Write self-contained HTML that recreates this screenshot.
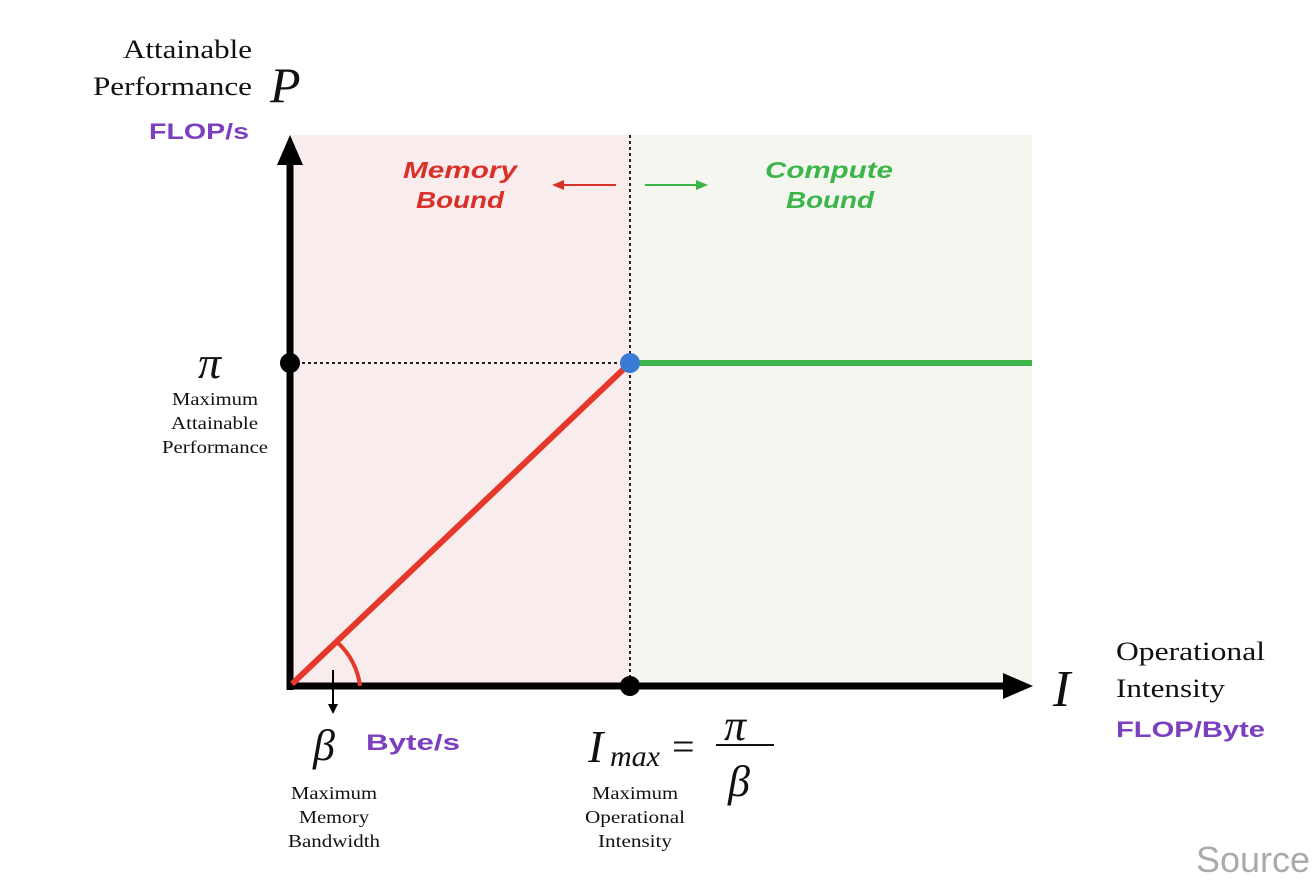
<!DOCTYPE html>
<html><head><meta charset="utf-8"><style>
html,body{margin:0;padding:0;background:#fff;}
svg{display:block}
.serif{font-family:"Liberation Serif",serif;}
.sans{font-family:"Liberation Sans",sans-serif;font-weight:bold;}
</style></head><body>
<svg width="1312" height="890" viewBox="0 0 1312 890" xmlns="http://www.w3.org/2000/svg">
<rect x="290" y="135" width="340" height="551" fill="#f9eced"/>
<rect x="630" y="135" width="402" height="551" fill="#f4f6ef"/>
<line x1="630" y1="135" x2="630" y2="686" stroke="#222" stroke-width="2" stroke-dasharray="3,3"/>
<line x1="290" y1="363" x2="630" y2="363" stroke="#222" stroke-width="2" stroke-dasharray="3,3"/>
<line x1="290" y1="690" x2="290" y2="160" stroke="#000" stroke-width="7"/>
<polygon points="290,135 277,165 303,165" fill="#000"/>
<line x1="287" y1="686" x2="1010" y2="686" stroke="#000" stroke-width="7"/>
<polygon points="1033,686 1003,673 1003,699" fill="#000"/>
<line x1="292" y1="684" x2="630" y2="363" stroke="#e5382a" stroke-width="6"/>
<line x1="630" y1="363" x2="1032" y2="363" stroke="#3db54a" stroke-width="6"/>
<path d="M 337 642 A 70 70 0 0 1 360 686" fill="none" stroke="#e5382a" stroke-width="4"/>
<circle cx="630" cy="363" r="10" fill="#3a7bd5"/>
<circle cx="290" cy="363" r="10" fill="#000"/>
<circle cx="630" cy="686" r="10" fill="#000"/>
<line x1="333" y1="670" x2="333" y2="706" stroke="#000" stroke-width="2"/>
<polygon points="333,714 328,704 338,704" fill="#000"/>
<line x1="560" y1="185" x2="616" y2="185" stroke="#d9302a" stroke-width="2"/>
<polygon points="552,185 564,180 564,190" fill="#d9302a"/>
<line x1="645" y1="185" x2="700" y2="185" stroke="#3db54a" stroke-width="2"/>
<polygon points="708,185 696,180 696,190" fill="#3db54a"/>
<g class="sans" font-style="italic" font-size="23">
<text x="403" y="178" fill="#d9302a" textLength="114" lengthAdjust="spacingAndGlyphs">Memory</text>
<text x="416" y="208" fill="#d9302a" textLength="88" lengthAdjust="spacingAndGlyphs">Bound</text>
<text x="765" y="178" fill="#3db54a" textLength="128" lengthAdjust="spacingAndGlyphs">Compute</text>
<text x="786" y="208" fill="#3db54a" textLength="88" lengthAdjust="spacingAndGlyphs">Bound</text>
</g>
<g class="serif" fill="#111">
<text x="123" y="58" font-size="26" textLength="129" lengthAdjust="spacingAndGlyphs">Attainable</text>
<text x="93" y="95" font-size="26" textLength="159" lengthAdjust="spacingAndGlyphs">Performance</text>
<text x="270" y="102" font-size="50" font-style="italic">P</text>
<text x="1116" y="660" font-size="26" textLength="149" lengthAdjust="spacingAndGlyphs">Operational</text>
<text x="1116" y="697" font-size="26" textLength="109" lengthAdjust="spacingAndGlyphs">Intensity</text>
<text x="1053" y="706" font-size="52" font-style="italic">I</text>
<text x="198" y="378" font-size="46" font-style="italic">π</text>
<g font-size="18">
<text x="172" y="405" textLength="86" lengthAdjust="spacingAndGlyphs">Maximum</text>
<text x="171" y="429" textLength="87" lengthAdjust="spacingAndGlyphs">Attainable</text>
<text x="162" y="453" textLength="106" lengthAdjust="spacingAndGlyphs">Performance</text>
<text x="291" y="799" textLength="86" lengthAdjust="spacingAndGlyphs">Maximum</text>
<text x="299" y="823" textLength="70" lengthAdjust="spacingAndGlyphs">Memory</text>
<text x="288" y="847" textLength="92" lengthAdjust="spacingAndGlyphs">Bandwidth</text>
<text x="592" y="799" textLength="86" lengthAdjust="spacingAndGlyphs">Maximum</text>
<text x="585" y="823" textLength="100" lengthAdjust="spacingAndGlyphs">Operational</text>
<text x="598" y="847" textLength="74" lengthAdjust="spacingAndGlyphs">Intensity</text>
</g>
<text x="313" y="760" font-size="44" font-style="italic">β</text>
<text x="588" y="762" font-size="46" font-style="italic">I</text>
<text x="610" y="766" font-size="30" font-style="italic">max</text>
<text x="672" y="760" font-size="40">=</text>
<text x="724" y="740" font-size="44" font-style="italic">π</text>
<line x1="716" y1="745" x2="774" y2="745" stroke="#111" stroke-width="2"/>
<text x="728" y="796" font-size="44" font-style="italic">β</text>
</g>
<g class="sans" fill="#7b3fbf" font-size="22">
<text x="149" y="139" textLength="100" lengthAdjust="spacingAndGlyphs">FLOP/s</text>
<text x="366" y="750" textLength="94" lengthAdjust="spacingAndGlyphs">Byte/s</text>
<text x="1116" y="737" textLength="149" lengthAdjust="spacingAndGlyphs">FLOP/Byte</text>
</g>
<text x="1196" y="872" font-family="Liberation Sans,sans-serif" font-size="36" fill="#aaa">Source</text>
</svg>
</body></html>
